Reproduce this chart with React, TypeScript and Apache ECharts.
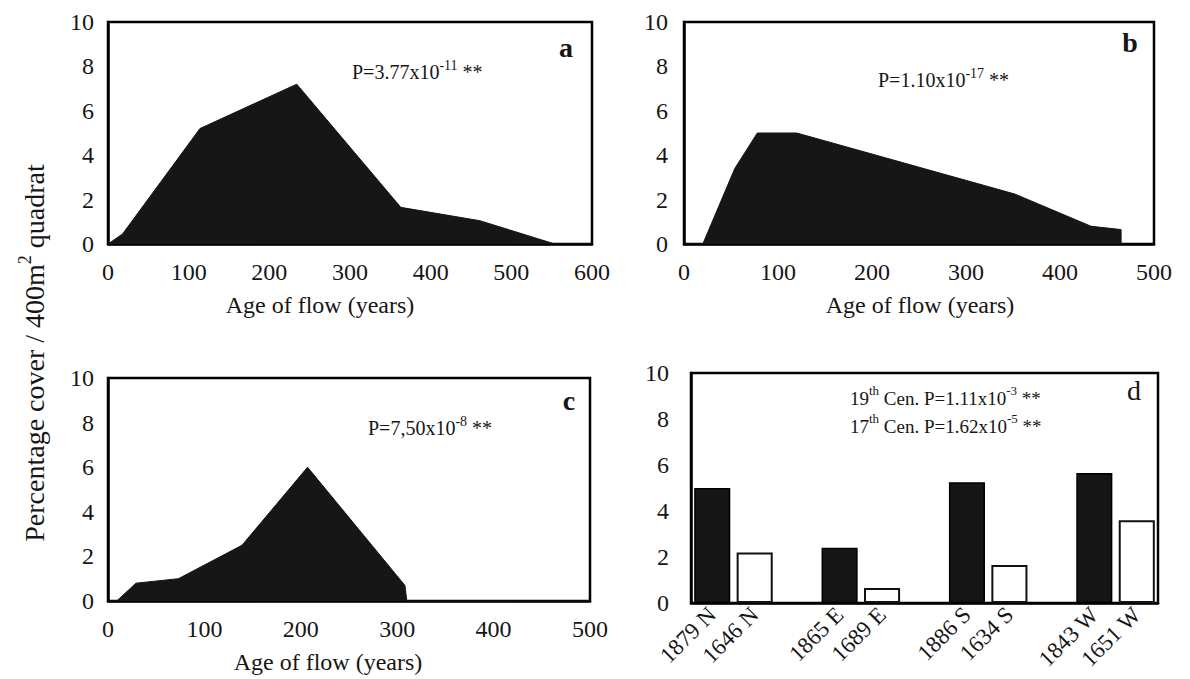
import React, { useEffect, useRef } from "react";
import * as echarts from "echarts";

// Panel a
const ageA = [0, 18, 114, 234, 363, 461, 554, 600];
const coverA = [0, 0.45, 5.2, 7.2, 1.65, 1.05, 0, 0];
// Panel b
const ageB = [0, 20, 54, 66, 78, 120, 352, 433, 465, 465];
const coverB = [0, 0, 3.4, 4.2, 5.0, 5.0, 2.25, 0.8, 0.65, 0];
// Panel c
const ageC = [0, 9, 29, 73, 139, 207, 308, 310, 500];
const coverC = [0, 0, 0.8, 1.0, 2.5, 6.0, 0.7, 0, 0];
// Panel d
const aspects = ["N", "E", "S", "W"];
const years19 = [1879, 1865, 1886, 1843];
const cover19 = [5.0, 2.4, 5.25, 5.65];
const years17 = [1646, 1689, 1634, 1651];
const cover17 = [2.2, 0.65, 1.65, 3.6];

const xMaxes = [600, 500, 500];
const yTitle = "Percentage cover / 400m";
const xTitle = "Age of flow (years)";
const pA = ["P=3.77x10", "-11"];
const pB = ["P=1.10x10", "-17"];
const pC = ["P=7,50x10", "-8"];
const pD1 = ["19", "th", " Cen. P=1.11x10", "-3"];
const pD2 = ["17", "th", " Cen. P=1.62x10", "-5"];

const FONT = '"Liberation Serif", "Times New Roman", "DejaVu Serif", serif';
const INK = "#161616";

const cats: string[] = [];
const black: (number | string)[] = [];
const white: (number | string)[] = [];
aspects.forEach((a, i) => {
  cats.push(`${years19[i]} ${a}`);
  black.push(cover19[i]);
  white.push("-");
  cats.push(`${years17[i]} ${a}`);
  black.push("-");
  white.push(cover17[i]);
  if (i < aspects.length - 1) {
    cats.push("");
    black.push("-");
    white.push("-");
  }
});

const rich = {
  m: { fontSize: 20, fontFamily: FONT, lineHeight: 24, verticalAlign: "bottom", fill: INK },
  s: { fontSize: 14, fontFamily: FONT, lineHeight: 24, verticalAlign: "top", fill: INK },
};

function pText(x: number, y: number, parts: string[]) {
  return {
    type: "text",
    x,
    y,
    style: {
      text: `{m|${parts[0]}}{s|${parts[1]}}{m| **}`,
      rich,
      align: "left",
      verticalAlign: "middle",
    },
  };
}

function dText(x: number, y: number, parts: string[]) {
  return {
    type: "text",
    x,
    y,
    style: {
      text: `{m|${parts[0]}}{s|${parts[1]}}{m|${parts[2]}}{s|${parts[3]}}{m| **}`,
      rich: {
        m: { ...rich.m, fontSize: 19 },
        s: { ...rich.s, fontSize: 13 },
      },
      align: "left",
      verticalAlign: "middle",
    },
  };
}

function letter(x: number, y: number, t: string, bold = true) {
  return {
    type: "text",
    x,
    y,
    style: {
      text: t,
      font: `${bold ? "bold " : ""}28px ${FONT}`,
      fill: INK,
      align: "center",
      verticalAlign: "middle",
    },
  };
}

function axisName(x: number, y: number) {
  return {
    type: "text",
    x,
    y,
    style: {
      text: xTitle,
      font: `24px ${FONT}`,
      fill: INK,
      align: "center",
      verticalAlign: "middle",
    },
  };
}

const grids = [
  { left: 108, top: 22, width: 484, height: 222 },
  { left: 684, top: 22, width: 470, height: 222 },
  { left: 108, top: 378, width: 482, height: 223 },
  { left: 691, top: 373, width: 467, height: 230 },
];
const yMargins = [14, 16, 14, 22];
const frameW = 2.5;
const frameC = "#000000";

// plot-area frames, derived from the grid layout above
const frames = grids.map((g) => ({
  type: "rect",
  z: 0,
  silent: true,
  shape: { x: g.left, y: g.top, width: g.width, height: g.height },
  style: { fill: "none", stroke: frameC, lineWidth: frameW },
}));

function areaSeries(i: number, xs: number[], ys: number[]) {
  return {
    type: "line",
    xAxisIndex: i,
    yAxisIndex: i,
    data: xs.map((x, k) => [x, ys[k]]),
    showSymbol: false,
    symbol: "none",
    lineStyle: { color: INK, width: 1 },
    areaStyle: { color: INK, opacity: 1 },
  };
}

const option: any = {
  animation: false,
  backgroundColor: "#ffffff",
  grid: grids.map((g) => ({ ...g, show: false })),
  xAxis: [
    ...xMaxes.map((mx, i) => ({
      type: "value",
      gridIndex: i,
      min: 0,
      max: mx,
      interval: 100,
      axisLine: { show: true, onZero: false, lineStyle: { color: frameC, width: frameW } },
      axisTick: { show: false },
      splitLine: { show: false },
      axisLabel: { fontSize: 24, fontFamily: FONT, color: INK, margin: 16 },
    })),
    {
      type: "category",
      gridIndex: 3,
      data: cats,
      axisLine: { show: true, onZero: false, lineStyle: { color: frameC, width: frameW } },
      axisTick: { show: false },
      splitLine: { show: false },
      axisLabel: {
        interval: 0,
        rotate: 45,
        fontSize: 23,
        fontFamily: FONT,
        color: INK,
        margin: 8,
      },
    },
  ],
  yAxis: grids.map((_, i) => ({
    type: "value",
    gridIndex: i,
    min: 0,
    max: 10,
    interval: 2,
    axisLine: { show: true, onZero: false, lineStyle: { color: frameC, width: frameW } },
    axisTick: { show: false },
    splitLine: { show: false },
    axisLabel: { fontSize: 24, fontFamily: FONT, color: INK, margin: yMargins[i] },
  })),
  series: [
    areaSeries(0, ageA, coverA),
    areaSeries(1, ageB, coverB),
    areaSeries(2, ageC, coverC),
    {
      type: "bar",
      xAxisIndex: 3,
      yAxisIndex: 3,
      data: black,
      barWidth: "85%",
      barGap: "-100%",
      itemStyle: { color: INK, borderColor: "#000", borderWidth: 1.5 },
    },
    {
      type: "bar",
      xAxisIndex: 3,
      yAxisIndex: 3,
      data: white,
      barWidth: "85%",
      barGap: "-100%",
      itemStyle: { color: "#ffffff", borderColor: "#111", borderWidth: 2 },
    },
  ],
  graphic: [
    ...frames,
    {
      type: "text",
      x: 32,
      y: 353,
      rotation: Math.PI / 2,
      style: {
        text: `{t|${yTitle}}{s|2}{t| quadrat}`,
        rich: {
          t: { fontSize: 28, fontFamily: FONT, lineHeight: 32, verticalAlign: "bottom", fill: INK },
          s: { fontSize: 18, fontFamily: FONT, lineHeight: 32, verticalAlign: "top", fill: INK },
        },
        align: "center",
        verticalAlign: "middle",
      },
    },
    axisName(320, 305),
    axisName(920, 305),
    axisName(328, 662),
    letter(566, 47, "a"),
    letter(1130, 42, "b"),
    letter(569, 400, "c"),
    letter(1134, 390, "d", false),
    pText(352, 70, pA),
    pText(878, 78, pB),
    pText(368, 426, pC),
    dText(850, 396, pD1),
    dText(850, 424, pD2),
  ],
};

export default function App() {
  const ref = useRef<HTMLDivElement>(null);
  useEffect(() => {
    if (!ref.current) return;
    const chart = echarts.init(ref.current, null, { renderer: "svg" });
    chart.setOption(option);
    return () => chart.dispose();
  }, []);
  return (
    <div
      ref={ref}
      style={{ position: "fixed", left: 0, top: 0, width: 1190, height: 679, background: "#fff" }}
    />
  );
}
